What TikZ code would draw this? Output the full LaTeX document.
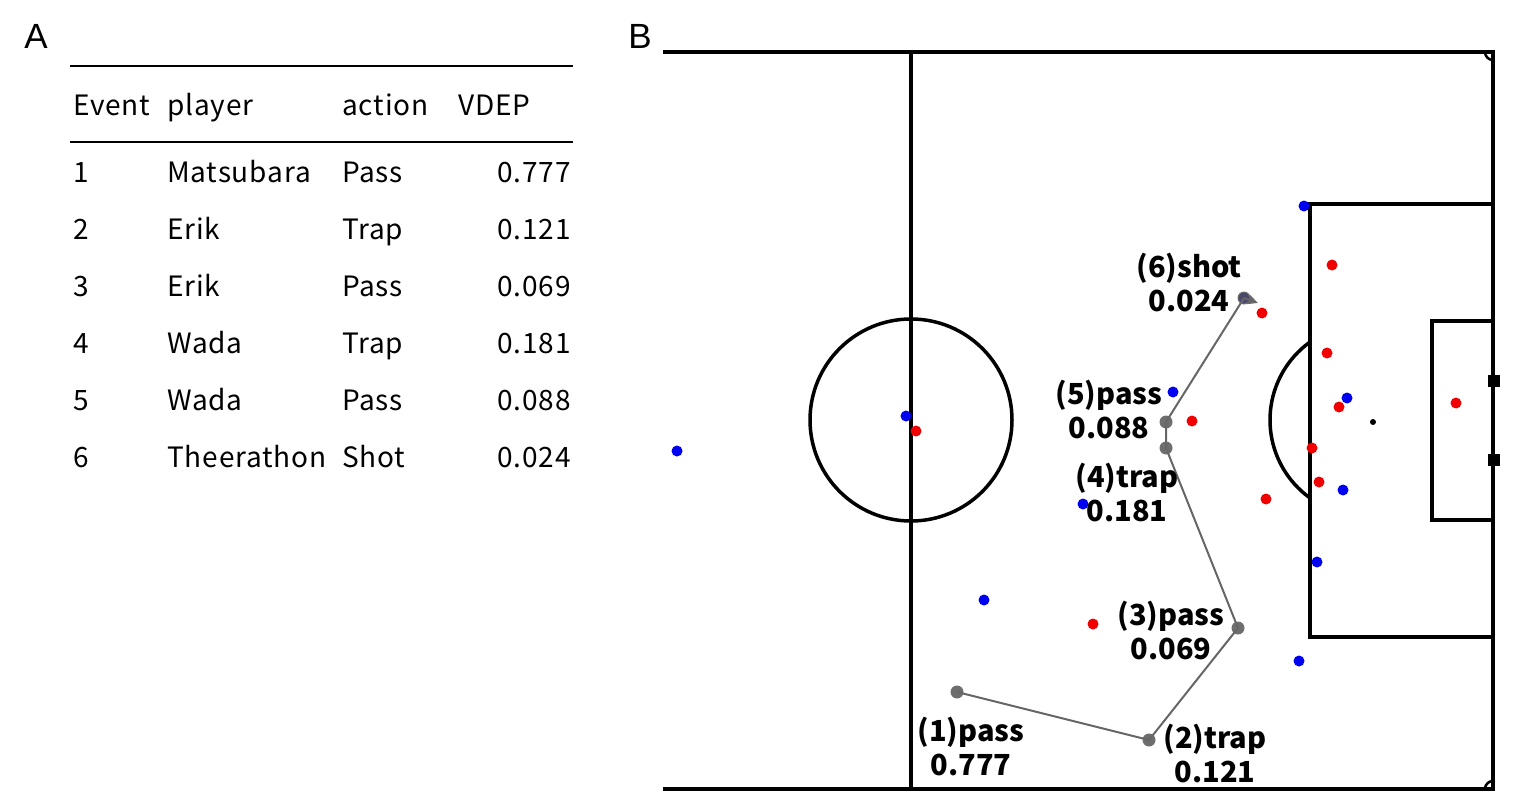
\documentclass[tikz,border=0pt]{standalone}
\usepackage{fontspec}
\setmainfont{Liberation Sans}
\newfontfamily\tabfont[LetterSpace=3]{Noto Sans CJK JP}
\newfontfamily\lblfont{Noto Sans CJK JP}
\usetikzlibrary{arrows.meta}
\definecolor{pred}{RGB}{240,0,0}
\definecolor{pblue}{RGB}{0,0,240}
\definecolor{evgray}{RGB}{85,85,85}
\begin{document}
\begin{tikzpicture}[x=1pt,y=-1pt,
  pline/.style={line width=3.5pt, black},
  rule/.style={line width=2pt, black},
  rp/.style={circle, fill=pred, inner sep=0pt, minimum size=11pt},
  bp/.style={circle, fill=pblue, inner sep=0pt, minimum size=11pt},
  ev/.style={circle, fill=evgray, fill opacity=0.85, inner sep=0pt, minimum size=13pt},
  evline/.style={line width=2pt, evgray!90},
  lbl/.style={font=\lblfont\bfseries\fontsize{29}{34}\selectfont, align=center, inner sep=0pt},
  tcell/.style={font=\tabfont\fontsize{28}{30}\selectfont, anchor=base west, inner sep=0pt},
  tnum/.style={font=\tabfont\fontsize{28}{30}\selectfont, anchor=base east, inner sep=0pt},
  panel/.style={font=\fontsize{35}{38}\selectfont, inner sep=0pt}]
\useasboundingbox (0,0) rectangle (1513,808);

% panel labels
\node[panel] (pa) at (36,36) {A};
\node[panel] (pb) at (640,36) {B};

% table
\draw[rule] (70,66) -- (573,66);
\draw[rule] (70,142) -- (573,142);
\node[tcell] (h1) at (73,115) {Event};
\node[tcell] (h2) at (167,115) {player};
\node[tcell] (h3) at (342,115) {action};
\node[tcell] (h4) at (458,115) {VDEP};
\foreach \i/\p/\a/\v [count=\k from 0] in {1/Matsubara/Pass/0.777, 2/Erik/Trap/0.121, 3/Erik/Pass/0.069, 4/Wada/Trap/0.181, 5/Wada/Pass/0.088, 6/Theerathon/Shot/0.024}{
  \node[tcell] (r\i a) at (73,182+57*\k) {\i};
  \node[tcell] (r\i b) at (167,182+57*\k) {\p};
  \node[tcell] (r\i c) at (342,182+57*\k) {\a};
  \node[tnum] (r\i d) at (571,182+57*\k) {\v};
}

% pitch
\draw[pline] (663,52) -- (1493,52) -- (1493,789) -- (663,789);
\draw[pline] (911,52) -- (911,789);
\draw[pline] (911,420) circle[radius=101pt];
\draw[pline] (1493,204) -- (1310,204) -- (1310,637) -- (1493,637);
\draw[pline] (1493,321) -- (1432,321) -- (1432,520) -- (1493,520);
\begin{scope}
  \clip (1200,300) rectangle (1309,540);
  \draw[pline] (1366,420) circle[radius=96pt];
\end{scope}
\begin{scope}
  \clip (1480,52) rectangle (1493,65);
  \draw[line width=2.5pt] (1493,52) circle[radius=8pt];
\end{scope}
\begin{scope}
  \clip (1480,776) rectangle (1493,789);
  \draw[line width=2.5pt] (1493,789) circle[radius=8pt];
\end{scope}
\node[fill=black, minimum size=12pt, inner sep=0pt] (gp1) at (1494,381) {};
\node[fill=black, minimum size=12pt, inner sep=0pt] (gp2) at (1494,460) {};

% players
\foreach \x/\y [count=\n] in {916/431, 1093/624, 1192/421, 1262/313, 1332/265, 1327/353, 1339/407, 1312/448, 1319/482, 1266/499, 1456/403}{
  \node[rp] (red\n) at (\x,\y) {};
}
\foreach \x/\y [count=\n] in {677/451, 906/416, 984/600, 1083/504, 1173/392, 1304/206, 1347/398, 1343/490, 1317/562, 1299/661, 1244/298}{
  \node[bp] (blue\n) at (\x,\y) {};
}
\node[circle, fill=black, inner sep=0pt, minimum size=6pt] (ball) at (1373,422) {};

% events
\node[ev] (e1) at (957,692) {};
\node[ev] (e2) at (1149,740) {};
\node[ev] (e3) at (1238,628) {};
\node[ev] (e4) at (1166,448) {};
\node[ev] (e5) at (1166,422) {};
\node[ev] (e6) at (1244,298) {};
\coordinate (shotend) at (1258,303);
\draw[evline] (e1.center) -- (e2.center) -- (e3.center) -- (e4.center) -- (e5.center) -- (e6.center);
\draw[evline, -{Triangle[length=10pt,width=9pt]}] (e6.center) -- (shotend);

% labels
\node[lbl] (l1) at (971,747) {(1)pass\\0.777};
\node[lbl] (l2) at (1215,754) {(2)trap\\0.121};
\node[lbl] (l3) at (1171,631) {(3)pass\\0.069};
\node[lbl] (l4) at (1127,493) {(4)trap\\0.181};
\node[lbl] (l5) at (1109,410) {(5)pass\\0.088};
\node[lbl] (l6) at (1189,283) {(6)shot\\0.024};
\end{tikzpicture}
\end{document}
